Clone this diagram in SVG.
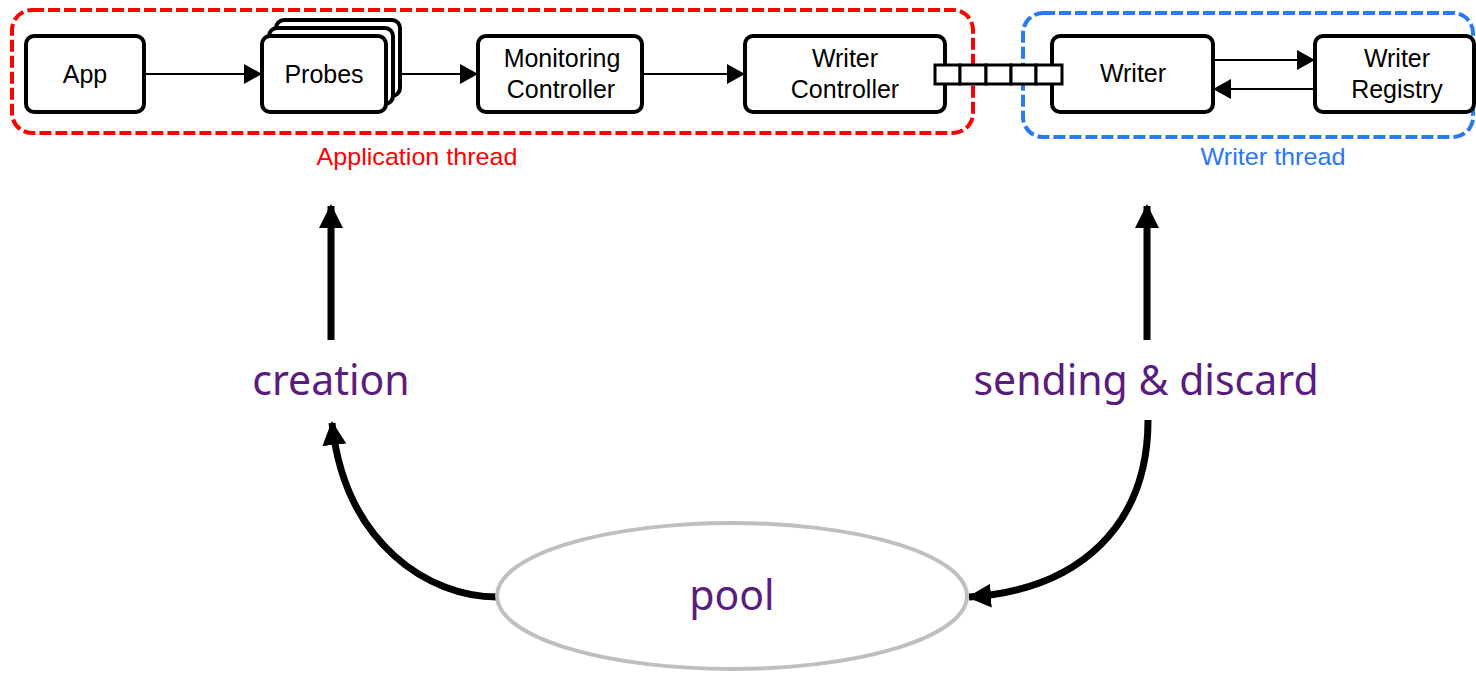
<svg xmlns="http://www.w3.org/2000/svg" width="1476" height="674" viewBox="0 0 1476 674">
<style>
.box{fill:#fff;stroke:#000;stroke-width:4}
.lbl{font-family:"Liberation Sans",Arial,sans-serif;font-size:25px;fill:#000;text-anchor:middle}
.conn{stroke:#000;stroke-width:2;fill:none}
.big{stroke:#000;stroke-width:7;fill:none}
.purple{font-family:"Noto Sans","Open Sans",sans-serif;font-size:41px;fill:#5A1C7E;text-anchor:middle}
.cell{fill:#fff;stroke:#000;stroke-width:3}
.thr{font-family:"Liberation Sans",Arial,sans-serif;font-size:24px;text-anchor:middle}
</style>
<defs>
<marker id="ah" markerUnits="userSpaceOnUse" markerWidth="18" markerHeight="20" refX="18" refY="10" orient="auto">
<path d="M0,0 L18,10 L0,20 Z" fill="#000"/>
</marker>
<marker id="bh" markerUnits="userSpaceOnUse" markerWidth="24" markerHeight="26" refX="22" refY="13" orient="auto">
<path d="M0,1 L24,13 L0,25 Z" fill="#000"/>
</marker>
</defs>
<rect fill="#fff" width="1476" height="674"/>
<g id="application-thread">
<rect x="12" y="10" width="961" height="123" rx="20" fill="none" stroke="#FF0000" stroke-width="4" stroke-dasharray="12 4"/>
<text class="thr" x="417" y="165" fill="#FF0000" textLength="201" lengthAdjust="spacingAndGlyphs">Application thread</text>
</g>
<g id="writer-thread">
<rect x="1023" y="13" width="450" height="124" rx="20" fill="none" stroke="#2979F2" stroke-width="4" stroke-dasharray="12 4"/>
<text class="thr" x="1273" y="165" fill="#2979F2" textLength="145" lengthAdjust="spacingAndGlyphs">Writer thread</text>
</g>
<g id="connectors">
<line class="conn" x1="144" y1="74" x2="262" y2="74" marker-end="url(#ah)"/>
<line class="conn" x1="400" y1="74" x2="478" y2="74" marker-end="url(#ah)"/>
<line class="conn" x1="642" y1="74" x2="745" y2="74" marker-end="url(#ah)"/>
<line class="conn" x1="1213" y1="60" x2="1315" y2="60" marker-end="url(#ah)"/>
<line class="conn" x1="1315" y1="89" x2="1213" y2="89" marker-end="url(#ah)"/>
<line class="big" x1="331" y1="340" x2="331" y2="206" marker-end="url(#bh)"/>
<line class="big" x1="1147" y1="340" x2="1147" y2="206" marker-end="url(#bh)"/>
<path class="big" d="M497,597 C430,597 345,545 332,423" marker-end="url(#bh)"/>
<path class="big" d="M1148,420 C1148,525 1080,590 969,597" marker-end="url(#bh)"/>
</g>
<g id="app">
<rect class="box" x="26" y="36" width="118" height="76" rx="8"/>
<text class="lbl" x="85" y="83">App</text>
</g>
<g id="probes">
<rect class="box" x="276" y="20" width="124" height="76" rx="8"/>
<rect class="box" x="269" y="28" width="124" height="76" rx="8"/>
<rect class="box" x="262" y="36" width="124" height="76" rx="8"/>
<text class="lbl" x="324" y="83">Probes</text>
</g>
<g id="monitoring-controller">
<rect class="box" x="478" y="36" width="164" height="76" rx="8"/>
<text class="lbl" x="562" y="67">Monitoring</text>
<text class="lbl" x="561" y="98">Controller</text>
</g>
<g id="writer-controller">
<rect class="box" x="745" y="36" width="200" height="76" rx="8"/>
<text class="lbl" x="845" y="67">Writer</text>
<text class="lbl" x="845" y="98">Controller</text>
</g>
<g id="writer">
<rect class="box" x="1052" y="36" width="161" height="76" rx="8"/>
<text class="lbl" x="1133" y="82">Writer</text>
</g>
<g id="writer-registry">
<rect class="box" x="1315" y="36" width="159" height="76" rx="8"/>
<text class="lbl" x="1397" y="67">Writer</text>
<text class="lbl" x="1397" y="98">Registry</text>
</g>
<g id="queue">
<rect class="cell" x="935" y="65" width="25" height="19"/>
<rect class="cell" x="960" y="65" width="26" height="19"/>
<rect class="cell" x="986" y="65" width="25" height="19"/>
<rect class="cell" x="1011" y="65" width="25" height="19"/>
<rect class="cell" x="1036" y="65" width="26" height="19"/>
</g>
<g id="creation">
<text class="purple" x="331" y="395">creation</text>
</g>
<g id="sending-discard">
<text class="purple" x="1146" y="395">sending &amp; discard</text>
</g>
<g id="pool">
<ellipse cx="732" cy="596" rx="235" ry="73" fill="#fff" stroke="#BFBFBF" stroke-width="4"/>
<text class="purple" x="732" y="610">pool</text>
</g>
</svg>
